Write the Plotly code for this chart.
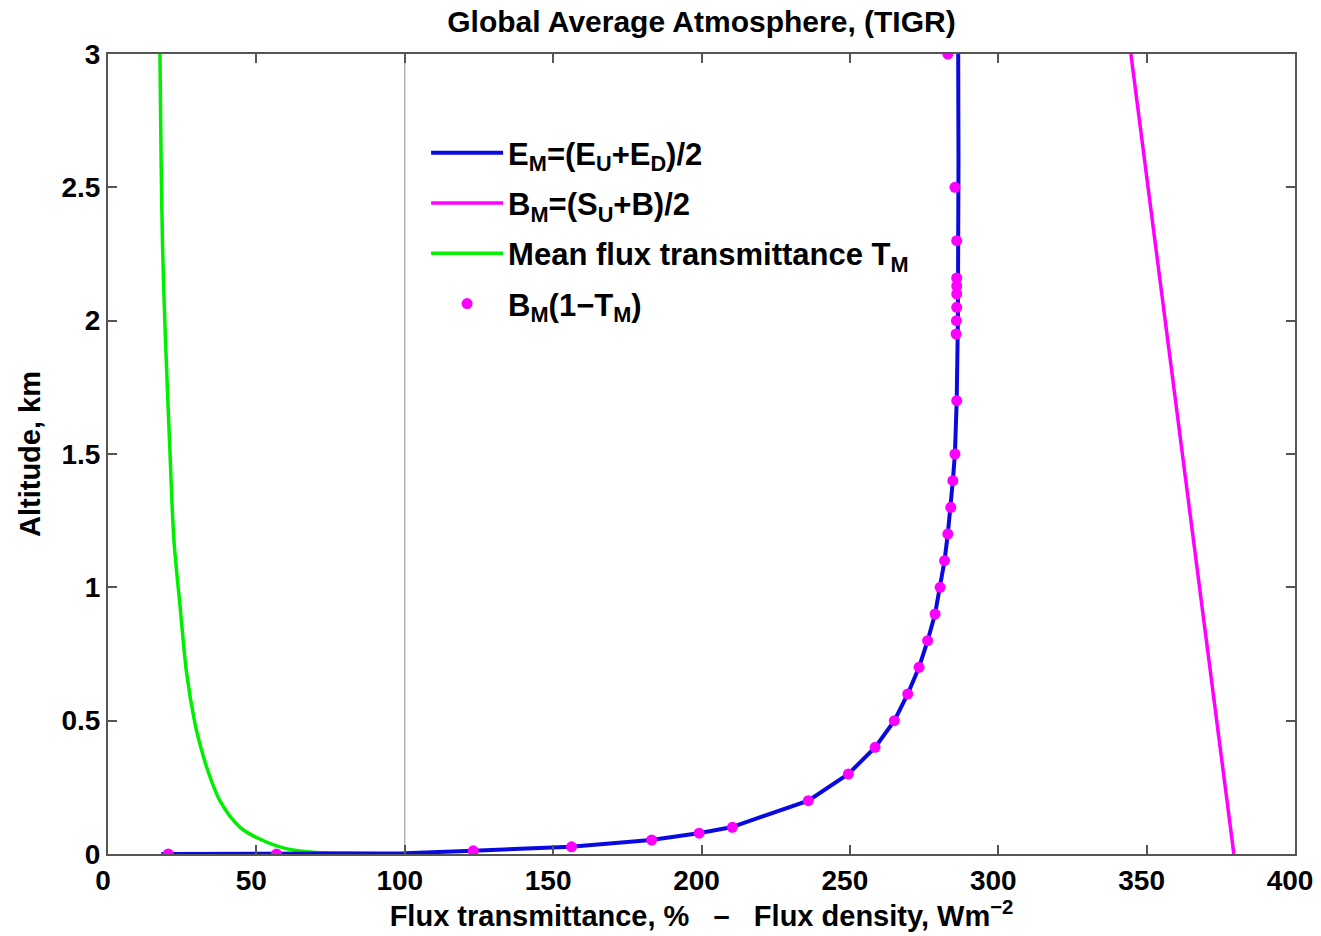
import plotly.graph_objects as go

# ---- data ----
em_x = [18, 60, 100, 123, 156, 183, 199, 210, 236, 249.5, 258.5, 265, 269.5, 273.3,
        276.2, 278.7, 280.4, 281.9, 283.0, 284.0, 284.7, 285.4, 286.0, 286.4, 286.6, 286.6, 286.5]
em_y = [0, 0, 0.003, 0.012, 0.027, 0.0525, 0.078, 0.10, 0.20, 0.30, 0.40, 0.50, 0.60, 0.70,
        0.80, 0.90, 1.00, 1.10, 1.20, 1.30, 1.40, 1.50, 1.70, 2.00, 2.30, 2.60, 3.00]

bm_x = [379.4, 344.7]
bm_y = [0, 3]

tm_x = [100, 85, 70, 60, 50.6, 44.5, 37.7, 33.2, 30.8, 29.3, 26.5, 24.3, 22.2, 20.8, 19.3, 18.4, 17.9, 17.5]
tm_y = [0, 0.002, 0.006, 0.02, 0.059, 0.10, 0.20, 0.327, 0.42, 0.49, 0.678, 0.927, 1.18, 1.53, 1.95, 2.27, 2.6, 3.0]

dot_x = [20.3, 56.8, 123.1, 156.2, 183.2, 199.2, 210.4, 236.0, 249.5, 258.5, 265.0, 269.5, 273.3,
         276.2, 278.7, 280.4, 281.9, 283.0, 284.0, 284.7, 285.4, 286.0, 285.8, 285.9, 286.0,
         286.0, 286.0, 286.0, 286.0, 285.4, 283.0]
dot_y = [0, 0, 0.012, 0.027, 0.0525, 0.078, 0.10, 0.20, 0.30, 0.40, 0.50, 0.60, 0.70,
         0.80, 0.90, 1.00, 1.10, 1.20, 1.30, 1.40, 1.50, 1.70, 1.95, 2.00, 2.05,
         2.10, 2.13, 2.16, 2.30, 2.50, 3.00]

ref_x = [100, 100]
ref_y = [0, 3]

x_ticks = [0, 50, 100, 150, 200, 250, 300, 350, 400]
y_ticks = [0, 0.5, 1, 1.5, 2, 2.5, 3]
y_tick_text = ["0", "0.5", "1", "1.5", "2", "2.5", "3"]

FONT = "Liberation Sans"

fig = go.Figure()

fig.add_trace(go.Scatter(x=ref_x, y=ref_y, mode="lines", showlegend=False,
                         line=dict(color="#b4b4b4", width=1.5), hoverinfo="skip"))
fig.add_trace(go.Scatter(x=tm_x, y=tm_y, mode="lines", name="Mean flux transmittance T<sub>M</sub>",
                         line=dict(color="#00ee00", width=3.5, shape="spline", smoothing=0.9),
                         legendrank=3, legendgroup="g3"))
fig.add_trace(go.Scatter(x=em_x, y=em_y, mode="lines", name="E<sub>M</sub>=(E<sub>U</sub>+E<sub>D</sub>)/2",
                         line=dict(color="#0a0ae0", width=4), legendrank=1, legendgroup="g1"))
fig.add_trace(go.Scatter(x=bm_x, y=bm_y, mode="lines", name="B<sub>M</sub>=(S<sub>U</sub>+B)/2",
                         line=dict(color="#ff00ff", width=3.5), legendrank=2, legendgroup="g2"))
fig.add_trace(go.Scatter(x=dot_x, y=dot_y, mode="markers", name="B<sub>M</sub>(1−T<sub>M</sub>)",
                         marker=dict(color="#ff00ff", size=11), legendrank=4, legendgroup="g4"))

axis_common = dict(
    showline=True, linecolor="#555555", linewidth=2, mirror="ticks",
    ticks="inside", ticklen=9, tickcolor="#555555", tickwidth=1.5,
    showgrid=False, zeroline=False, automargin=False, ticklabeloverflow="allow",
    tickfont=dict(family=FONT, size=28, color="black", weight="bold"),
)

# the page body adds an 8px offset, so the figure is 8px smaller and margins shifted
fig.update_layout(
    width=1313, height=928,
    margin=dict(l=100, r=26, t=46, b=82, autoexpand=False),
    paper_bgcolor="white", plot_bgcolor="white",
    title=dict(text="Global Average Atmosphere, (TIGR)", xref="paper", x=0.5, xanchor="center",
               yref="container", y=0.985, yanchor="middle",
               font=dict(family=FONT, size=30, color="black", weight="bold")),
    xaxis=dict(range=[0, 400], tickvals=x_ticks, ticklabelshift=-5,
               title=dict(text="Flux transmittance, %   –   Flux density, Wm<sup>−2</sup>", standoff=6,
                          font=dict(family=FONT, size=29, color="black", weight="bold")),
               **axis_common),
    yaxis=dict(range=[0, 3], tickvals=y_ticks, ticktext=y_tick_text,
               title=dict(text="Altitude, km", standoff=12,
                          font=dict(family=FONT, size=29, color="black", weight="bold")),
               **axis_common),
    legend=dict(x=0.268, y=0.91, xanchor="left", yanchor="top",
                bgcolor="rgba(0,0,0,0)", borderwidth=0,
                font=dict(family=FONT, size=31, color="black", weight="bold"),
                itemwidth=72, tracegroupgap=7),
)

fig.write_html("out.html")
